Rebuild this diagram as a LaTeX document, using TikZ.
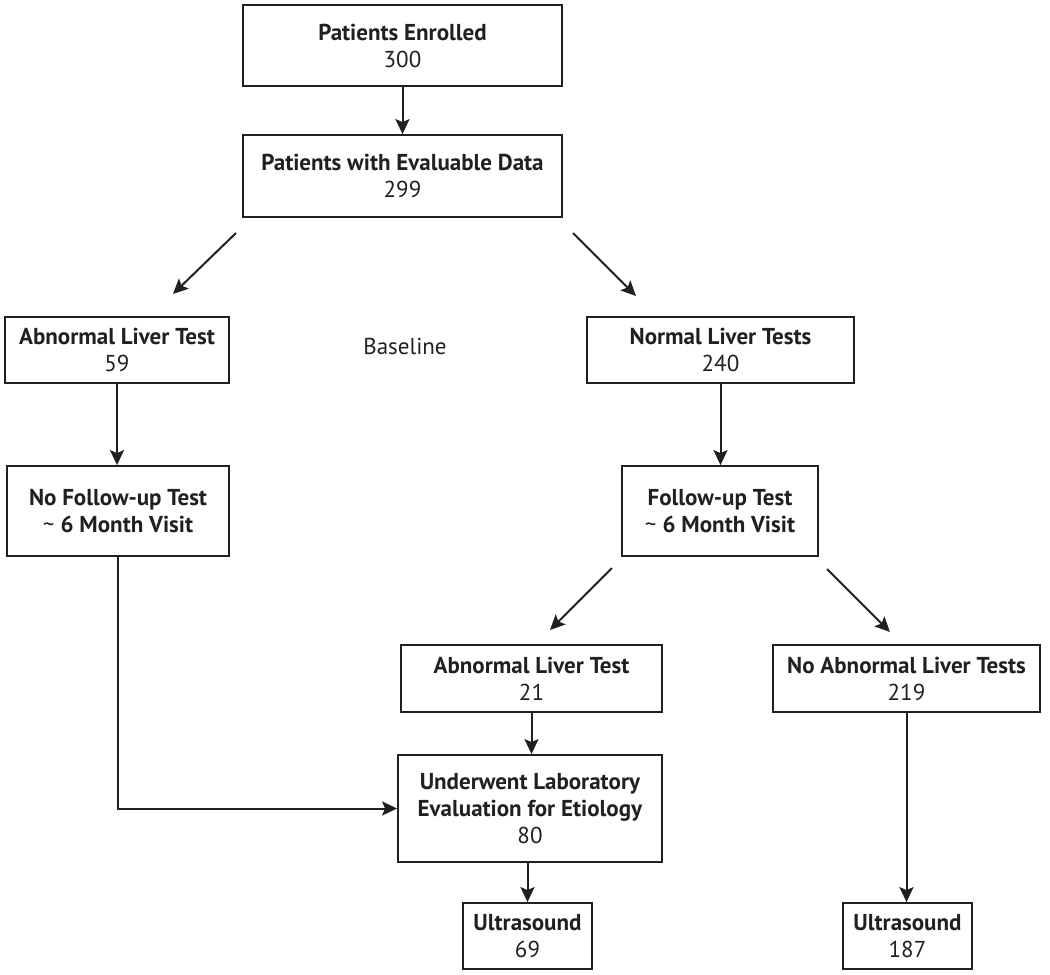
\documentclass[tikz,border=0pt]{standalone}
\usepackage{fontspec}
\setmainfont{PT Sans}
\usetikzlibrary{arrows.meta}
\definecolor{inchiostro}{HTML}{231F20}

\begin{document}
\begin{tikzpicture}[x=1pt, y=-1pt, >={Stealth[length=15pt, width=14pt, inset=3pt]},
    box/.style={draw=inchiostro, line width=1.8pt, align=center, inner sep=0pt,
        text=inchiostro, font=\fontsize{23}{27}\selectfont},
    freccia/.style={->, draw=inchiostro, line width=2pt}]
    \useasboundingbox (0,0) rectangle (1050,975);

    % Estremi delle frecce diagonali
    \coordinate (d1a) at (236,233);
    \coordinate (d1b) at (173,294);
    \coordinate (d2a) at (573,233);
    \coordinate (d2b) at (636,296);
    \coordinate (d3a) at (612,568);
    \coordinate (d3b) at (550,630);
    \coordinate (d4a) at (827,569);
    \coordinate (d4b) at (890,632);

    % Nodi (riquadri)
    \node[box, minimum width=319pt, minimum height=81pt] (enrolled) at (402.5,45.5)
        {\textbf{Patients Enrolled}\\300};
    \node[box, minimum width=319pt, minimum height=82pt] (evaluable) at (402.5,176)
        {\textbf{Patients with Evaluable Data}\\299};
    \node[box, minimum width=224pt, minimum height=66pt] (abnbase) at (117,350)
        {\textbf{Abnormal Liver Test}\\59};
    \node[box, minimum width=267pt, minimum height=66pt] (normbase) at (720.5,350)
        {\textbf{Normal Liver Tests}\\240};
    \node[text=inchiostro, font=\fontsize{23}{27}\selectfont] (baseline) at (405,346) {Baseline};
    \node[box, minimum width=222pt, minimum height=90pt] (nofollow) at (118,511)
        {\textbf{No Follow-up Test}\\\textasciitilde\ \textbf{6 Month Visit}};
    \node[box, minimum width=196pt, minimum height=90pt] (follow) at (720,511)
        {\textbf{Follow-up Test}\\\textasciitilde\ \textbf{6 Month Visit}};
    \node[box, minimum width=261pt, minimum height=67pt] (abnfollow) at (531.5,678.5)
        {\textbf{Abnormal Liver Test}\\21};
    \node[box, minimum width=267pt, minimum height=67pt] (noabn) at (906.5,678.5)
        {\textbf{No Abnormal Liver Tests}\\219};
    \node[box, minimum width=264pt, minimum height=107pt] (labeval) at (530,808.5)
        {\textbf{Underwent Laboratory}\\\textbf{Evaluation for Etiology}\\80};
    \node[box, minimum width=129pt, minimum height=66pt] (us1) at (527.5,936)
        {\textbf{Ultrasound}\\69};
    \node[box, minimum width=129pt, minimum height=66pt] (us2) at (907.5,936)
        {\textbf{Ultrasound}\\187};

    % Frecce verticali
    \draw[freccia] (enrolled.south) -- (evaluable.north);
    \draw[freccia] (abnbase.south) -- (abnbase.south |- nofollow.north);
    \draw[freccia] (normbase.south) -- (normbase.south |- follow.north);
    \draw[freccia] (abnfollow.south) -- (abnfollow.south |- labeval.north);
    \draw[freccia] (labeval.south -| us1) -- (us1.north);
    \draw[freccia] (noabn.south) -- (noabn.south |- us2.north);

    % Frecce diagonali
    \draw[freccia] (d1a) -- (d1b);
    \draw[freccia] (d2a) -- (d2b);
    \draw[freccia] (d3a) -- (d3b);
    \draw[freccia] (d4a) -- (d4b);

    % Collegamento a gomito
    \draw[freccia] (nofollow.south) |- (labeval.west);
\end{tikzpicture}
\end{document}
